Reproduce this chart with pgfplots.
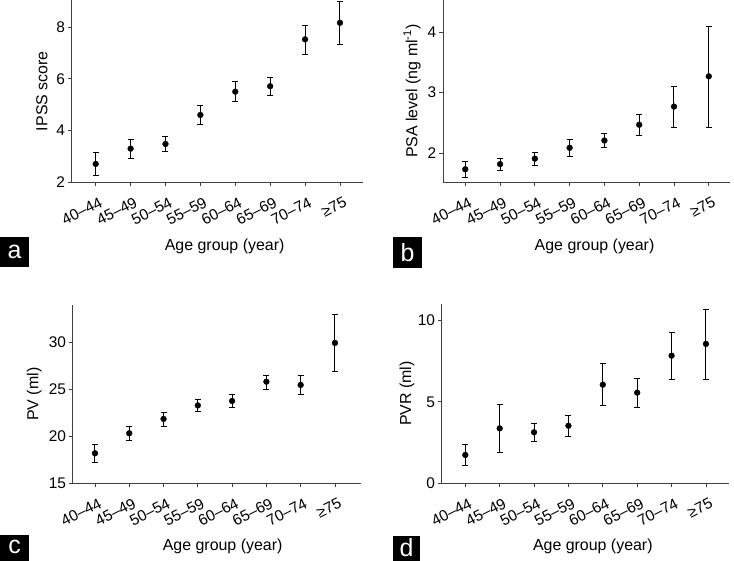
\documentclass[border=0pt]{standalone}
\usepackage{pgfplots}
\pgfplotsset{compat=1.18}
\usepackage{pgfplotstable}
\usepackage{fontspec}
\setmainfont{Liberation Sans}
\setsansfont{Liberation Sans}

\pgfplotstableread{
x y ep em
0 2.71 0.45 0.44
1 3.30 0.36 0.37
2 3.48 0.30 0.27
3 4.60 0.36 0.36
4 5.50 0.38 0.39
5 5.71 0.34 0.37
6 7.52 0.55 0.57
7 8.16 0.82 0.82
}\dataA
\pgfplotstableread{
x y ep em
0 1.735 0.135 0.135
1 1.82 0.09 0.10
2 1.91 0.11 0.11
3 2.09 0.14 0.15
4 2.21 0.11 0.12
5 2.47 0.17 0.18
6 2.77 0.34 0.35
7 3.27 0.83 0.84
}\dataB
\pgfplotstableread{
x y ep em
0 18.20 0.96 1.00
1 20.33 0.70 0.73
2 21.86 0.71 0.76
3 23.30 0.66 0.60
4 23.77 0.68 0.67
5 25.83 0.72 0.83
6 25.48 0.99 0.98
7 29.96 3.01 3.02
}\dataC
\pgfplotstableread{
x y ep em
0 1.74 0.63 0.66
1 3.37 1.50 1.47
2 3.13 0.55 0.55
3 3.53 0.66 0.63
4 6.05 1.31 1.29
5 5.56 0.86 0.88
6 7.83 1.43 1.43
7 8.55 2.14 2.15
}\dataD

\newcommand\labfont{\fontsize{16}{16}\selectfont}
\newcommand\tickfont{\fontsize{15.5}{15.5}\selectfont}
\pgfplotsset{
  panel/.style={
    scale only axis,
    anchor=south west,
    axis lines=left,
    axis line style={-, black!75, line width=0.8bp},
    tick style={black!75, line width=0.8bp},
    tick align=outside,
    major tick length=4bp,
    xtick={0,...,7},
    xticklabels={{\tickfont 40–44},{\tickfont 45–49},{\tickfont 50–54},{\tickfont 55–59},{\tickfont 60–64},{\tickfont 65–69},{\tickfont 70–74},{\tickfont ≥75}},
    x tick label style={xshift=5.5bp, yshift=-15bp, inner sep=0pt, rotate=27, anchor=east},
    yticklabel={\tickfont\pgfmathprintnumber{\tick}},
    y tick label style={inner sep=2.5bp},
    /pgf/number format/assume math mode=true,
    xlabel={Age group (year)},
    clip=false,
  },
  pts/.style={
    only marks, mark=*, mark size=2.9bp, mark options={fill=black, draw=black},
    error bars/.cd, y dir=both, y explicit,
    error bar style={line width=1bp, black},
    error mark options={rotate=90, mark size=3bp, line width=0.8bp, black},
  },
}

\begin{document}
\begin{tikzpicture}
\useasboundingbox (0,0) rectangle (734bp,561bp);

% panel a
\begin{axis}[panel,
  at={(71.7bp,378.7bp)}, width=291.3bp, height=182.3bp,
  xmin=-0.688, xmax=7.66, ymin=2, ymax=9.04,
  ytick={2,4,6,8},
  ylabel={IPSS score},
  every axis y label/.style={at={(axis description cs:-0.102,0.5)}, rotate=90, anchor=center, font=\labfont},
  every axis x label/.style={at={(axis description cs:0.525,-0.349)}, anchor=center, font=\labfont},
]
\addplot[black, pts] table[x=x, y=y, y error plus=ep, y error minus=em] {\dataA};
\end{axis}

% panel b
\begin{axis}[panel,
  at={(443bp,378.7bp)}, width=287bp, height=182.3bp,
  xmin=-0.64, xmax=7.61, ymin=1.52, ymax=4.53,
  ytick={2,3,4},
  ylabel={PSA level (ng ml\textsuperscript{-1})},
  every axis y label/.style={at={(axis description cs:-0.108,0.5)}, rotate=90, anchor=center, font=\labfont},
  every axis x label/.style={at={(axis description cs:0.528,-0.353)}, anchor=center, font=\labfont},
]
\addplot[black, pts] table[x=x, y=y, y error plus=ep, y error minus=em] {\dataB};
\end{axis}

% panel c
\begin{axis}[panel,
  at={(72.7bp,77.7bp)}, width=288.3bp, height=178.3bp,
  xmin=-0.65, xmax=7.76, ymin=15, ymax=34.0,
  ytick={15,20,25,30},
  ylabel={PV (ml)},
  every axis y label/.style={at={(axis description cs:-0.133,0.5)}, rotate=90, anchor=center, font=\labfont},
  every axis x label/.style={at={(axis description cs:0.52,-0.356)}, anchor=center, font=\labfont},
]
\addplot[black, pts] table[x=x, y=y, y error plus=ep, y error minus=em] {\dataC};
\end{axis}

% panel d
\begin{axis}[panel,
  at={(441.7bp,77.7bp)}, width=287.3bp, height=179.3bp,
  xmin=-0.686, xmax=7.67, ymin=0, ymax=11,
  ytick={0,5,10},
  ylabel={PVR (ml)},
  every axis y label/.style={at={(axis description cs:-0.121,0.5)}, rotate=90, anchor=center, font=\labfont},
  every axis x label/.style={at={(axis description cs:0.526,-0.354)}, anchor=center, font=\labfont},
]
\addplot[black, pts] table[x=x, y=y, y error plus=ep, y error minus=em] {\dataD};
\end{axis}

% panel letters
\fill[black] (0bp,294bp) rectangle (29bp,324bp);
\node[white, font=\fontsize{25}{25}\selectfont] at (14.5bp,309bp) {a};
\fill[black] (392.7bp,293.3bp) rectangle (422.3bp,323.7bp);
\node[white, font=\fontsize{25}{25}\selectfont] at (407.5bp,308.5bp) {b};
\fill[black] (0bp,0bp) rectangle (29.3bp,26bp);
\node[white, font=\fontsize{25}{25}\selectfont] at (14.6bp,14bp) {c};
\fill[black] (393bp,0bp) rectangle (420.3bp,25bp);
\node[white, font=\fontsize{25}{25}\selectfont] at (406.6bp,13.5bp) {d};
\end{tikzpicture}
\end{document}
